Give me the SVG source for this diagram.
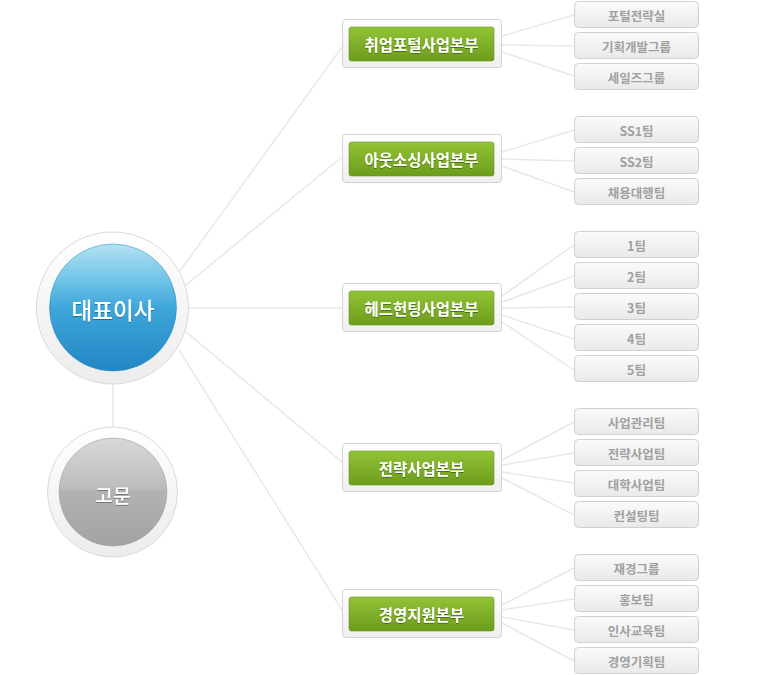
<svg xmlns="http://www.w3.org/2000/svg" width="770" height="675" viewBox="0 0 770 675">
<defs>
<linearGradient id="ring" x1="0" y1="0" x2="0" y2="1"><stop offset="0" stop-color="#ffffff"/><stop offset="1" stop-color="#ececec"/></linearGradient>
<linearGradient id="blue" x1="0" y1="0" x2="0" y2="1"><stop offset="0" stop-color="#b3e2f2"/><stop offset="0.3" stop-color="#6cc2e6"/><stop offset="0.5" stop-color="#3ea6da"/><stop offset="1" stop-color="#2386c4"/></linearGradient>
<linearGradient id="gray" x1="0" y1="0" x2="0" y2="1"><stop offset="0" stop-color="#d8d8d8"/><stop offset="0.45" stop-color="#bdbdbd"/><stop offset="0.5" stop-color="#b2b2b2"/><stop offset="1" stop-color="#a3a3a3"/></linearGradient>
<linearGradient id="green" x1="0" y1="0" x2="0" y2="1"><stop offset="0" stop-color="#93c337"/><stop offset="1" stop-color="#6c9c1c"/></linearGradient>
<linearGradient id="box" x1="0" y1="0" x2="0" y2="1"><stop offset="0" stop-color="#ffffff"/><stop offset="1" stop-color="#efefef"/></linearGradient>
<linearGradient id="team" x1="0" y1="0" x2="0" y2="1"><stop offset="0" stop-color="#fbfbfb"/><stop offset="1" stop-color="#e9e9e9"/></linearGradient>
<filter id="ts" x="-10%" y="-30%" width="120%" height="160%"><feDropShadow dx="0" dy="1" stdDeviation="0.6" flood-color="#000" flood-opacity="0.35"/></filter>
</defs>
<style>
.ln{stroke:#e8e8e8;stroke-width:1.5;fill:none}
.ringc{fill:url(#ring);stroke:#dadada;stroke-width:1}
.dbox{fill:url(#box);stroke:#d2d2d2;stroke-width:1}
.gbox{fill:url(#green);stroke:#6a961e;stroke-width:0.6}
.tbox{fill:url(#team);stroke:#d0d0d0;stroke-width:1}
.dt{font-family:"Noto Sans CJK KR","Noto Sans",sans-serif;font-size:15.5px;font-weight:bold;fill:#fff;text-anchor:middle;dominant-baseline:central;filter:url(#ts)}
.tt{font-family:"Noto Sans CJK KR","Noto Sans",sans-serif;font-size:12.5px;font-weight:bold;fill:#a0a0a0;text-anchor:middle;dominant-baseline:central}
.ct{font-family:"Noto Sans CJK KR","Noto Sans",sans-serif;fill:#fff;text-anchor:middle;dominant-baseline:central;filter:url(#ts)}
</style>
<rect width="770" height="675" fill="#fff"/>
<g id="connectors">
<line class="ln" x1="113" y1="384" x2="113" y2="427"/>
<line class="ln" x1="180" y1="271" x2="342" y2="47"/>
<line class="ln" x1="186" y1="285" x2="342" y2="157"/>
<line class="ln" x1="188" y1="308" x2="342" y2="308"/>
<line class="ln" x1="186" y1="332" x2="342" y2="462"/>
<line class="ln" x1="179" y1="350" x2="342" y2="610"/>
<line class="ln" x1="502" y1="36" x2="574" y2="15"/>
<line class="ln" x1="502" y1="45" x2="574" y2="46"/>
<line class="ln" x1="502" y1="52" x2="574" y2="76"/>
<line class="ln" x1="502" y1="152" x2="574" y2="130"/>
<line class="ln" x1="502" y1="159" x2="574" y2="161"/>
<line class="ln" x1="502" y1="166" x2="574" y2="192"/>
<line class="ln" x1="502" y1="296" x2="574" y2="245"/>
<line class="ln" x1="502" y1="302" x2="574" y2="276"/>
<line class="ln" x1="502" y1="308" x2="574" y2="307"/>
<line class="ln" x1="502" y1="315" x2="574" y2="339"/>
<line class="ln" x1="502" y1="322" x2="574" y2="370"/>
<line class="ln" x1="502" y1="460" x2="574" y2="422"/>
<line class="ln" x1="502" y1="465" x2="574" y2="453"/>
<line class="ln" x1="502" y1="472" x2="574" y2="483"/>
<line class="ln" x1="502" y1="478" x2="574" y2="515"/>
<line class="ln" x1="502" y1="605" x2="574" y2="568"/>
<line class="ln" x1="502" y1="610" x2="574" y2="599"/>
<line class="ln" x1="502" y1="617" x2="574" y2="630"/>
<line class="ln" x1="502" y1="623" x2="574" y2="661"/>
</g>
<g id="ceo">
<circle class="ringc" cx="112.5" cy="308" r="76"/>
<circle cx="113" cy="307.5" r="63.5" fill="url(#blue)" stroke="#2a86bd" stroke-width="0.5"/>
<text class="ct" x="113" y="309" font-size="22.5" font-weight="500">대표이사</text>
</g>
<g id="advisor">
<circle class="ringc" cx="112.5" cy="492" r="65"/>
<circle cx="113" cy="492" r="54" fill="url(#gray)" stroke="#9a9a9a" stroke-width="0.5"/>
<text class="ct" x="113" y="494" font-size="19.5" font-weight="500">고문</text>
</g>
<g id="div1"><rect class="dbox" x="342.5" y="19.5" width="159" height="48" rx="3"/><rect class="gbox" x="349" y="27" width="145" height="34" rx="2.5"/><text class="dt" x="421.5" y="44">취업포털사업본부</text></g>
<g id="div2"><rect class="dbox" x="342.5" y="134.5" width="159" height="48" rx="3"/><rect class="gbox" x="349" y="142" width="145" height="34" rx="2.5"/><text class="dt" x="421.5" y="159">아웃소싱사업본부</text></g>
<g id="div3"><rect class="dbox" x="342.5" y="283.5" width="159" height="48" rx="3"/><rect class="gbox" x="349" y="291" width="145" height="34" rx="2.5"/><text class="dt" x="421.5" y="308">헤드헌팅사업본부</text></g>
<g id="div4"><rect class="dbox" x="342.5" y="443.5" width="159" height="48" rx="3"/><rect class="gbox" x="349" y="451" width="145" height="34" rx="2.5"/><text class="dt" x="421.5" y="468">전략사업본부</text></g>
<g id="div5"><rect class="dbox" x="342.5" y="589.5" width="159" height="48" rx="3"/><rect class="gbox" x="349" y="597" width="145" height="34" rx="2.5"/><text class="dt" x="421.5" y="614">경영지원본부</text></g>
<g id="t1-1"><rect class="tbox" x="574.5" y="1.5" width="124" height="26" rx="4"/><text class="tt" x="636.5" y="15">포털전략실</text></g>
<g id="t1-2"><rect class="tbox" x="574.5" y="32.5" width="124" height="26" rx="4"/><text class="tt" x="636.5" y="46">기획개발그룹</text></g>
<g id="t1-3"><rect class="tbox" x="574.5" y="63.5" width="124" height="26" rx="4"/><text class="tt" x="636.5" y="77">세일즈그룹</text></g>
<g id="t2-1"><rect class="tbox" x="574.5" y="116.5" width="124" height="26" rx="4"/><text class="tt" x="636.5" y="130">SS1팀</text></g>
<g id="t2-2"><rect class="tbox" x="574.5" y="147.5" width="124" height="26" rx="4"/><text class="tt" x="636.5" y="161">SS2팀</text></g>
<g id="t2-3"><rect class="tbox" x="574.5" y="178.5" width="124" height="26" rx="4"/><text class="tt" x="636.5" y="192">채용대행팀</text></g>
<g id="t3-1"><rect class="tbox" x="574.5" y="231.5" width="124" height="26" rx="4"/><text class="tt" x="636.5" y="245">1팀</text></g>
<g id="t3-2"><rect class="tbox" x="574.5" y="262.5" width="124" height="26" rx="4"/><text class="tt" x="636.5" y="276">2팀</text></g>
<g id="t3-3"><rect class="tbox" x="574.5" y="293.5" width="124" height="26" rx="4"/><text class="tt" x="636.5" y="307">3팀</text></g>
<g id="t3-4"><rect class="tbox" x="574.5" y="324.5" width="124" height="26" rx="4"/><text class="tt" x="636.5" y="338">4팀</text></g>
<g id="t3-5"><rect class="tbox" x="574.5" y="355.5" width="124" height="26" rx="4"/><text class="tt" x="636.5" y="369">5팀</text></g>
<g id="t4-1"><rect class="tbox" x="574.5" y="408.5" width="124" height="26" rx="4"/><text class="tt" x="636.5" y="422">사업관리팀</text></g>
<g id="t4-2"><rect class="tbox" x="574.5" y="439.5" width="124" height="26" rx="4"/><text class="tt" x="636.5" y="453">전략사업팀</text></g>
<g id="t4-3"><rect class="tbox" x="574.5" y="470.5" width="124" height="26" rx="4"/><text class="tt" x="636.5" y="484">대학사업팀</text></g>
<g id="t4-4"><rect class="tbox" x="574.5" y="501.5" width="124" height="26" rx="4"/><text class="tt" x="636.5" y="515">컨설팅팀</text></g>
<g id="t5-1"><rect class="tbox" x="574.5" y="554.5" width="124" height="26" rx="4"/><text class="tt" x="636.5" y="568">재경그룹</text></g>
<g id="t5-2"><rect class="tbox" x="574.5" y="585.5" width="124" height="26" rx="4"/><text class="tt" x="636.5" y="599">홍보팀</text></g>
<g id="t5-3"><rect class="tbox" x="574.5" y="616.5" width="124" height="26" rx="4"/><text class="tt" x="636.5" y="630">인사교육팀</text></g>
<g id="t5-4"><rect class="tbox" x="574.5" y="647.5" width="124" height="26" rx="4"/><text class="tt" x="636.5" y="661">경영기획팀</text></g>
</svg>
